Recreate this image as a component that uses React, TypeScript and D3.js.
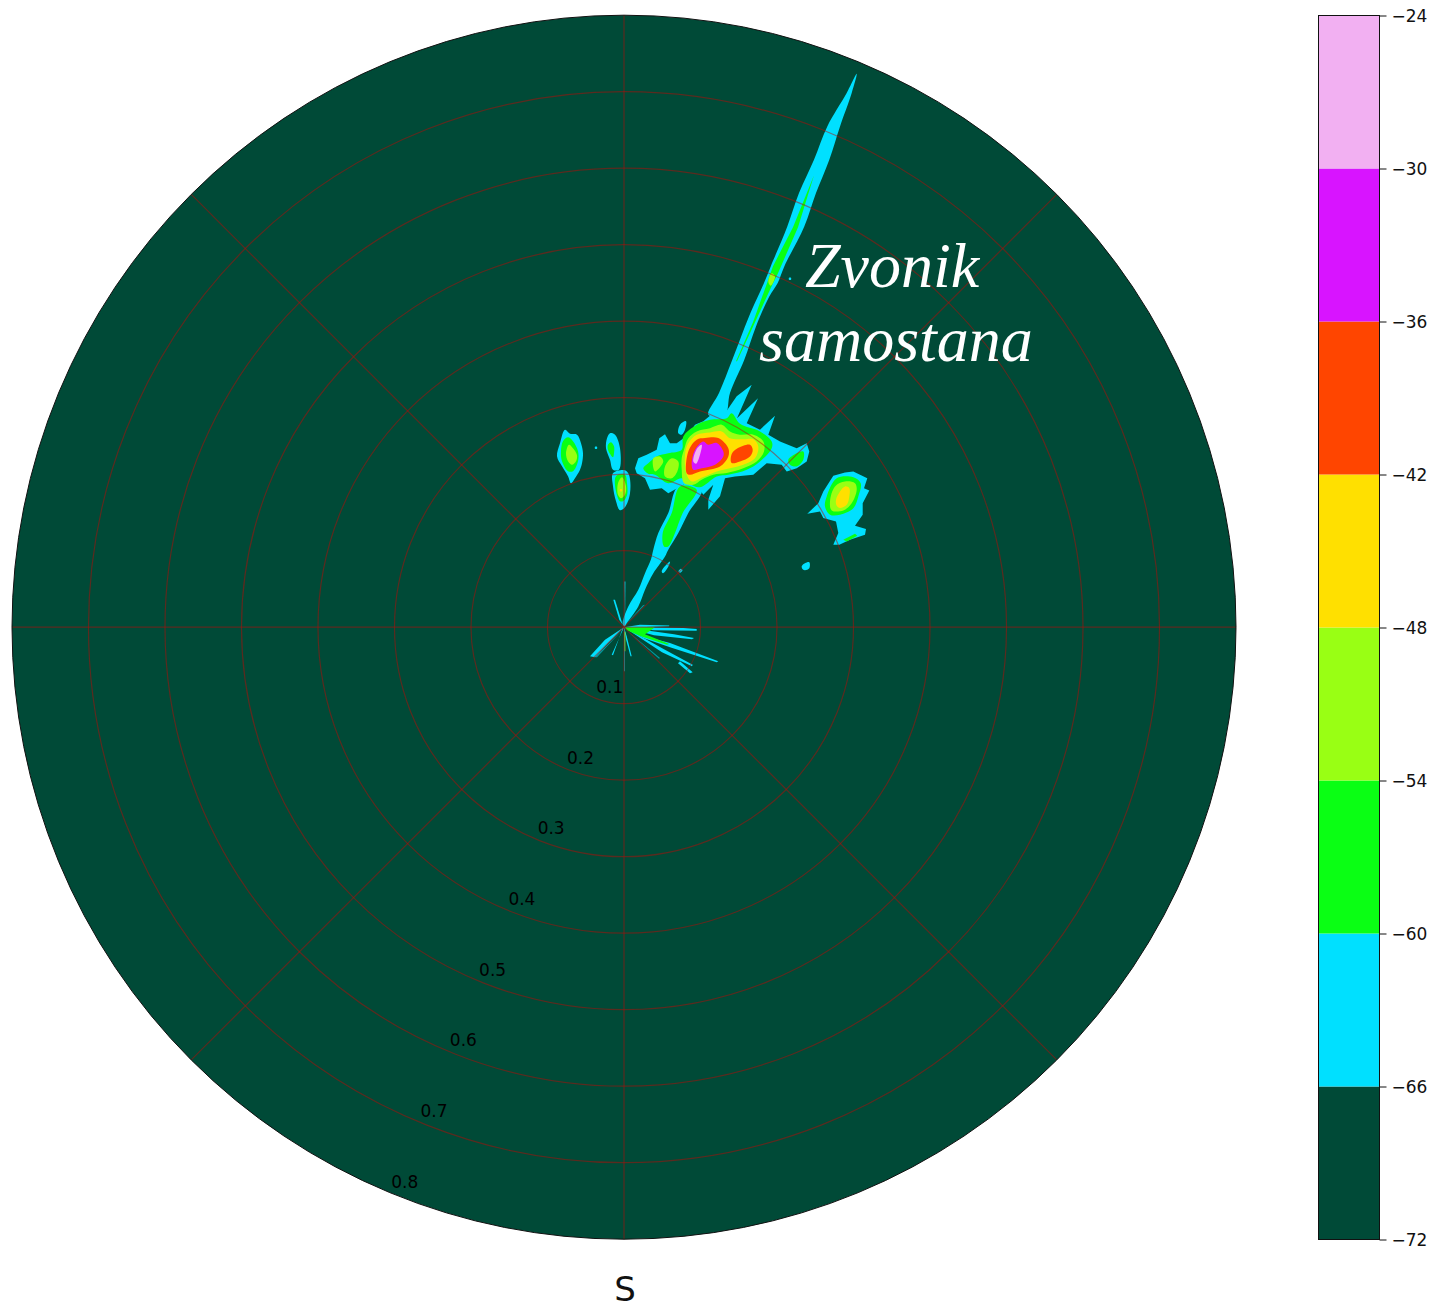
import React, { useRef, useEffect } from 'react';
import * as d3 from 'd3';

type Pt = [number, number];

// contour outlines, as [east, north] cells from the radar centre
const cyanBlobs: Pt[][] = [
  [[-59, 197.5], [-54, 193.5], [-47, 192.5], [-43, 184], [-41, 174], [-42, 164], [-44, 157.5], [-49, 149], [-53, 144], [-56, 151], [-62, 161], [-67, 171], [-64, 184]],
  [[-14, 194], [-9, 192.5], [-4, 179], [-5, 157.5], [-11, 157.5], [-14, 167.5], [-18, 179], [-17, 189]],
  [[-11, 154], [1, 157], [5, 152.5], [6, 134], [1, 120], [-4, 117], [-8, 126], [-11, 141]],
  [[54.3, 194], [56, 202.5], [62, 206], [61, 197.5], [57.7, 192.5]],
  [[177.7, 61], [181, 64], [185.3, 65], [185.3, 59], [181, 57], [178.7, 58]],
  [[37.7, 55.8], [40, 60], [46, 65.8], [44, 60], [39, 54]],
  [[54.5, 56], [57, 58.5], [58.5, 57], [56, 54.5]],
  [[-29, 180.5], [-27, 180.5], [-27, 178.5], [-29, 178.5]],
  [[165, 349.5], [167, 349.5], [167, 347.5], [165, 347.5]],
  // far beam
  [[232.7, 553.5], [227.7, 534.2], [216, 500.8], [205.3, 467.5], [192, 434.2], [180.3, 400.8], [160.3, 360.8], [153.7, 344.2], [145.3, 330.8], [132, 300.8], [120.3, 267.5], [106, 234.2], [101, 212.5], [84.3, 212.5], [95, 234.2], [108.3, 267.5], [125, 310.8], [140, 344.2], [146.7, 360.8], [163.3, 400.8], [175, 434.2], [190, 467.5], [203.3, 500.8], [222.7, 534.2]],
  // near beam
  [[54.3, 140.8], [77.7, 137.5], [64.3, 114.2], [54.3, 94.2], [44.3, 77.5], [41, 70.8], [29.3, 54], [21, 37.5], [14.3, 20.8], [2.7, 4], [0.5, 0.5], [-1.3, 4], [4.3, 20.8], [14.3, 37.5], [21, 54], [27, 68], [29.3, 77.5], [34.3, 94.2], [44.3, 114.2]],
];

const cyanSpiky: Pt[][] = [
  // main cluster
  [[11, 159], [14.3, 169], [22.7, 172.5], [32.7, 177.5], [35.3, 189], [41, 193], [46, 184], [52.7, 184], [64.3, 192.5], [71, 202.5], [79.3, 206], [89, 214], [101, 214], [112.7, 231], [127.7, 242.5], [113, 209], [134, 229], [122.7, 204], [136, 197.5], [151, 211.5], [144.3, 192.5], [156, 185.8], [172.7, 179], [182.7, 184], [185.3, 175.8], [182.7, 165.8], [172.7, 159], [162.7, 155.8], [157.7, 162.5], [142.7, 164], [129.3, 152.5], [111, 150.8], [101, 149], [96, 131], [84.3, 117.5], [84.3, 127.5], [89.3, 142.5], [79.3, 132.5], [76, 137.5], [59.3, 142.5], [44.3, 134], [37.7, 139], [26, 137.5], [21, 149], [12.7, 154]],
  // right blob
  [[183.3, 113.5], [194.3, 124], [199.3, 135.8], [209.3, 151.5], [221, 154.8], [229.3, 155.8], [243.3, 149], [240, 139], [245.3, 136.8], [238.7, 124], [238.7, 112.5], [231, 101.5], [242, 98.2], [241, 92.5], [226, 87.5], [215.3, 82.5], [209.3, 82.5], [214.3, 94.2], [212, 105.8], [199.3, 109.2], [196, 115.8]],
  // spikes around the centre
  [[-10.7, 27.5], [-9, 27.5], [-1.3, 2.5], [-4.7, 7.5]],
  [[0, 0], [16, 2.5], [45.3, 1.8], [45, 1], [14, 0]],
  [[0, 0], [59.3, -0.8], [72.7, -1.8], [72.7, -3.5], [30, -3]],
  [[0, 0], [50, -7], [70, -10.8], [68, -12], [30, -8]],
  [[0, 0], [21, -9.2], [46, -15.8], [94.3, -34], [92.7, -35], [46, -20], [20, -11]],
  [[0, 0], [40, -22], [68.7, -37.5], [68, -39], [38, -25]],
  [[56, -34], [68.7, -45], [66, -46], [54, -36]],
  [[0, 0], [2.7, -9], [7.7, -29], [6.5, -29], [2, -12]],
  [[0, 0], [-12.3, -27.5], [-11, -28], [-1, 0]],
  [[0, 0], [-19, -12.5], [-34, -29], [-29, -30], [-16, -16]],
];

const paleSpikes: Pt[][] = [
  [[0, 45.8], [1.7, 45.8], [1, 0]],
  [[0, -1], [1, -1], [1, -44], [0, -44]],
  [[21, 22.5], [19, 22], [0, 1]],
  [[36, -30.8], [35, -31.5], [0, -1]],
  [[-29, -30], [-27, -30], [-1, -2]],
];

const paleLimeSpikes: Pt[][] = [
  [[0, -4.5], [1.5, -4.5], [1.5, -24], [0.5, -24]],
];

const greenBlobs: Pt[][] = [
  [[-56, 190], [-51, 186], [-46, 176], [-46, 166], [-51, 156], [-56, 156], [-62, 166], [-63, 176], [-61, 186]],
  [[-13, 185], [-10, 181], [-10, 174], [-11, 170], [-16, 177.5], [-16, 182.5]],
  [[-8, 151], [1, 152.5], [3, 144], [3, 132], [-1, 126], [-4, 126], [-8, 136]],
  [[164.3, 167.5], [172.7, 174], [179.3, 175.8], [179.3, 167.5], [172.7, 160.8], [166, 162.5]],
  [[202.7, 130.8], [212.7, 149], [229.3, 150], [236.7, 144], [234.3, 130.8], [229.3, 119], [216, 112.5], [206, 112.5], [201, 120.8]],
  [[19.3, 159], [24.3, 164], [32.7, 170.8], [44.3, 174], [57.7, 177.5], [59.3, 190.8], [72.7, 202.5], [86, 207.5], [102.7, 209], [107.7, 214], [116, 203.5], [136, 195.8], [147.7, 185.8], [147.7, 179], [136, 165.8], [122.7, 157.5], [104.3, 152.5], [92.7, 150.8], [76, 140], [64.3, 144], [57.7, 149], [44.3, 144], [31, 152.5], [24.3, 153.5]],
  [[56, 140.8], [72.7, 137.5], [58.7, 114.2], [51, 94.2], [44.3, 80.8], [40, 80.8], [38.7, 94.2], [47.7, 114.2]],
];

const greenSpiky: Pt[][] = [
  [[219.3, 87.5], [231, 93.5], [233.3, 91.5], [222.7, 85.8]],
  [[1, 0], [31, 0], [21, -7], [45.3, -16.8], [43, -17.5], [17, -9], [3, -3]],
  // far beam core
  [[190, 452], [174, 400], [154, 354], [149, 344], [131, 305], [113, 266], [112, 266], [129, 305], [143, 344], [149, 361], [169, 400]],
];

const limeBlobs: Pt[][] = [
  [[-55, 182.5], [-51, 179], [-47, 172], [-48, 166], [-52, 162.5], [-56, 166], [-58, 174]],
  [[-6, 144], [-2, 150], [2, 141], [1, 132.5], [-3, 129], [-6, 132.5]],
  [[206, 125.8], [211, 140.8], [221, 145.8], [231, 144], [232.7, 137.5], [227.7, 124], [219.3, 116.8], [207.7, 116.8]],
  [[57.7, 169], [60, 177.5], [64.3, 189], [72.7, 195.8], [86, 199], [97.7, 202.5], [106, 195.8], [116, 192.5], [129.3, 192.5], [139.3, 185.8], [140, 175.8], [132.7, 165.8], [119.3, 159], [102.7, 154.2], [89.3, 152.5], [77.7, 147.5], [69.3, 142.5], [60, 144.2], [57.7, 157.5]],
  [[41, 160.8], [47.7, 169], [54.3, 165.8], [53.3, 155.8], [47.7, 149], [41, 150.8]],
  [[29.3, 169], [36, 170.8], [39.3, 165.8], [31, 155.8]],
  [[144.3, 345.8], [147.7, 354], [151, 350.8], [146.7, 341.5]],
];

const yellowBlobs: Pt[][] = [
  [[-4, 138], [-2, 138], [-2, 136], [-4, 136]],
  [[212, 127.5], [216, 135.8], [221, 140.8], [225.3, 139], [225.3, 130.8], [222.7, 122.5], [216, 119.2], [212.7, 121.5]],
  [[61, 172.5], [64.3, 184], [72.7, 192.5], [86, 194.8], [97.7, 195.8], [106, 189], [119.3, 188], [129.3, 188], [134.3, 180.8], [131, 169], [119.3, 162.5], [106, 159], [92.7, 155.8], [79.3, 150.2], [67.7, 145.8], [62.7, 152.5]],
];

const redBlobs: Pt[][] = [
  [[62.7, 154], [64.3, 175.8], [72.7, 187.5], [81, 189.2], [94.3, 189.2], [104.3, 179], [104.3, 170.8], [96, 160.8], [76, 155.8], [66, 152.5]],
  [[106.7, 169], [109.3, 175.8], [119.3, 181.5], [126, 182.5], [128.7, 177.5], [126, 170.8], [116, 165.8], [107.7, 164.2]],
];

const magentaBlobs: Pt[][] = [
  [[67.7, 162.5], [71, 177.5], [79.3, 185.8], [84.3, 182.5], [92.7, 184.2], [99.3, 175.8], [99.3, 170.8], [91, 162.5], [77.7, 159], [69.3, 157.5]],
];

const pinkBlobs: Pt[][] = [
  [[69.3, 165.8], [73.3, 179.2], [77.7, 182.5], [76, 172.5], [72, 163.5]],
];

const levels = [-72, -66, -60, -54, -48, -42, -36, -30, -24];
const levelColors = ['#004a37', '#00e0ff', '#0aff14', '#99ff14', '#ffe000', '#ff4500', '#d814ff', '#f2b0f2'];
const radii = [0.1, 0.2, 0.3, 0.4, 0.5, 0.6, 0.7, 0.8];
const spokeAngles = [0, 45, 90, 135, 180, 225, 270, 315];

const App: React.FC = () => {
  const ref = useRef<SVGSVGElement | null>(null);

  useEffect(() => {
    if (!ref.current) return;
    const svg = d3.select(ref.current);
    svg.selectAll('*').remove();

    const cx = 624;
    const cy = 627.2;
    const R = 612;

    const x = d3.scaleLinear().domain([-R, R]).range([cx - R, cx + R]);
    const y = d3.scaleLinear().domain([-R, R]).range([cy + R, cy - R]);
    const r = d3.scaleLinear().domain([0, 0.8]).range([0, R]);

    const smooth = d3.line<Pt>().x(d => x(d[0])).y(d => y(d[1])).curve(d3.curveCatmullRomClosed.alpha(0.5));
    const sharp = d3.line<Pt>().x(d => x(d[0])).y(d => y(d[1])).curve(d3.curveLinearClosed);

    const color = d3.scaleThreshold<number, string>().domain(levels.slice(1, -1)).range(levelColors);

    svg.append('circle').attr('cx', cx).attr('cy', cy).attr('r', R).attr('fill', color(-70));

    const draw = (regions: Pt[][], gen: d3.Line<Pt>, level: number, opacity = 1) => {
      svg.append('g').selectAll('path').data(regions).enter().append('path')
        .attr('d', d => gen(d))
        .attr('fill', color(level))
        .attr('opacity', opacity);
    };

    draw(cyanBlobs, smooth, -63);
    draw(cyanSpiky, sharp, -63);
    draw(paleSpikes, sharp, -63, 0.55);
    draw(paleLimeSpikes, sharp, -51, 0.6);
    draw(greenBlobs, smooth, -57);
    draw(greenSpiky, sharp, -57);
    draw(limeBlobs, smooth, -51);
    draw(yellowBlobs, smooth, -45);
    draw(redBlobs, smooth, -39);
    draw(magentaBlobs, smooth, -33);
    draw(pinkBlobs, smooth, -27);

    // grid
    const grid = svg.append('g').attr('fill', 'none').attr('stroke', '#b40c08').attr('stroke-opacity', 0.5);
    grid.selectAll('circle').data(radii.slice(0, -1)).enter().append('circle')
      .attr('cx', cx).attr('cy', cy).attr('r', d => r(d)).attr('stroke-width', 1.2);
    grid.selectAll('line').data(spokeAngles).enter().append('line')
      .attr('x1', cx).attr('y1', cy)
      .attr('x2', d => cx + R * Math.cos((d * Math.PI) / 180))
      .attr('y2', d => cy - R * Math.sin((d * Math.PI) / 180))
      .attr('stroke-width', 1.2);

    svg.append('circle').attr('cx', cx).attr('cy', cy).attr('r', R)
      .attr('fill', 'none').attr('stroke', '#111').attr('stroke-width', 1);

    // radial labels sit along 22.5 degrees west of south
    const labelAngle = (22.5 * Math.PI) / 180;
    svg.append('g').selectAll('text').data(radii).enter().append('text')
      .attr('x', d => cx - r(d) * Math.sin(labelAngle) + 15)
      .attr('y', d => cy + r(d) * Math.cos(labelAngle) - 5)
      .attr('text-anchor', 'middle')
      .attr('font-family', 'DejaVu Sans')
      .attr('font-size', 17)
      .attr('fill', '#000')
      .text(d => String(d));

    svg.append('text').attr('x', 625).attr('y', 1301).attr('text-anchor', 'middle')
      .attr('font-family', 'DejaVu Sans').attr('font-size', 34).attr('fill', '#111').text('S');

    const note = svg.append('g').attr('font-family', 'Liberation Serif').attr('font-style', 'italic')
      .attr('font-size', 64).attr('fill', '#fff');
    note.append('text').attr('x', 805).attr('y', 287).text('Zvonik');
    note.append('text').attr('x', 759).attr('y', 361).text('samostana');

    // colorbar
    const barLeft = 1318.5;
    const barWidth = 61;
    const barY = d3.scaleLinear().domain([-72, -24]).range([1239.5, 15.5]);
    const bar = svg.append('g');
    bar.selectAll('rect').data(levelColors).enter().append('rect')
      .attr('x', barLeft).attr('width', barWidth)
      .attr('y', (_, i) => barY(levels[i + 1]))
      .attr('height', (_, i) => barY(levels[i]) - barY(levels[i + 1]))
      .attr('fill', d => d);
    bar.append('rect').attr('x', barLeft).attr('y', barY(-24)).attr('width', barWidth)
      .attr('height', barY(-72) - barY(-24)).attr('fill', 'none').attr('stroke', '#111').attr('stroke-width', 1);

    const axis = svg.append('g')
      .attr('transform', `translate(${barLeft + barWidth},0)`)
      .call(d3.axisRight(barY).tickValues(levels).tickSize(7).tickPadding(5).tickFormat(d => `\u2212${Math.abs(+d)}`));
    axis.select('.domain').remove();
    axis.selectAll('text').attr('font-family', 'DejaVu Sans').attr('font-size', 17).attr('fill', '#111').attr('dy', '0.36em');
    axis.selectAll('line').attr('stroke', '#111');
  }, []);

  return (
    <svg
      ref={ref}
      width={1435}
      height={1308}
      style={{ position: 'absolute', left: 0, top: 0, background: '#fff' }}
    />
  );
};

export default App;
